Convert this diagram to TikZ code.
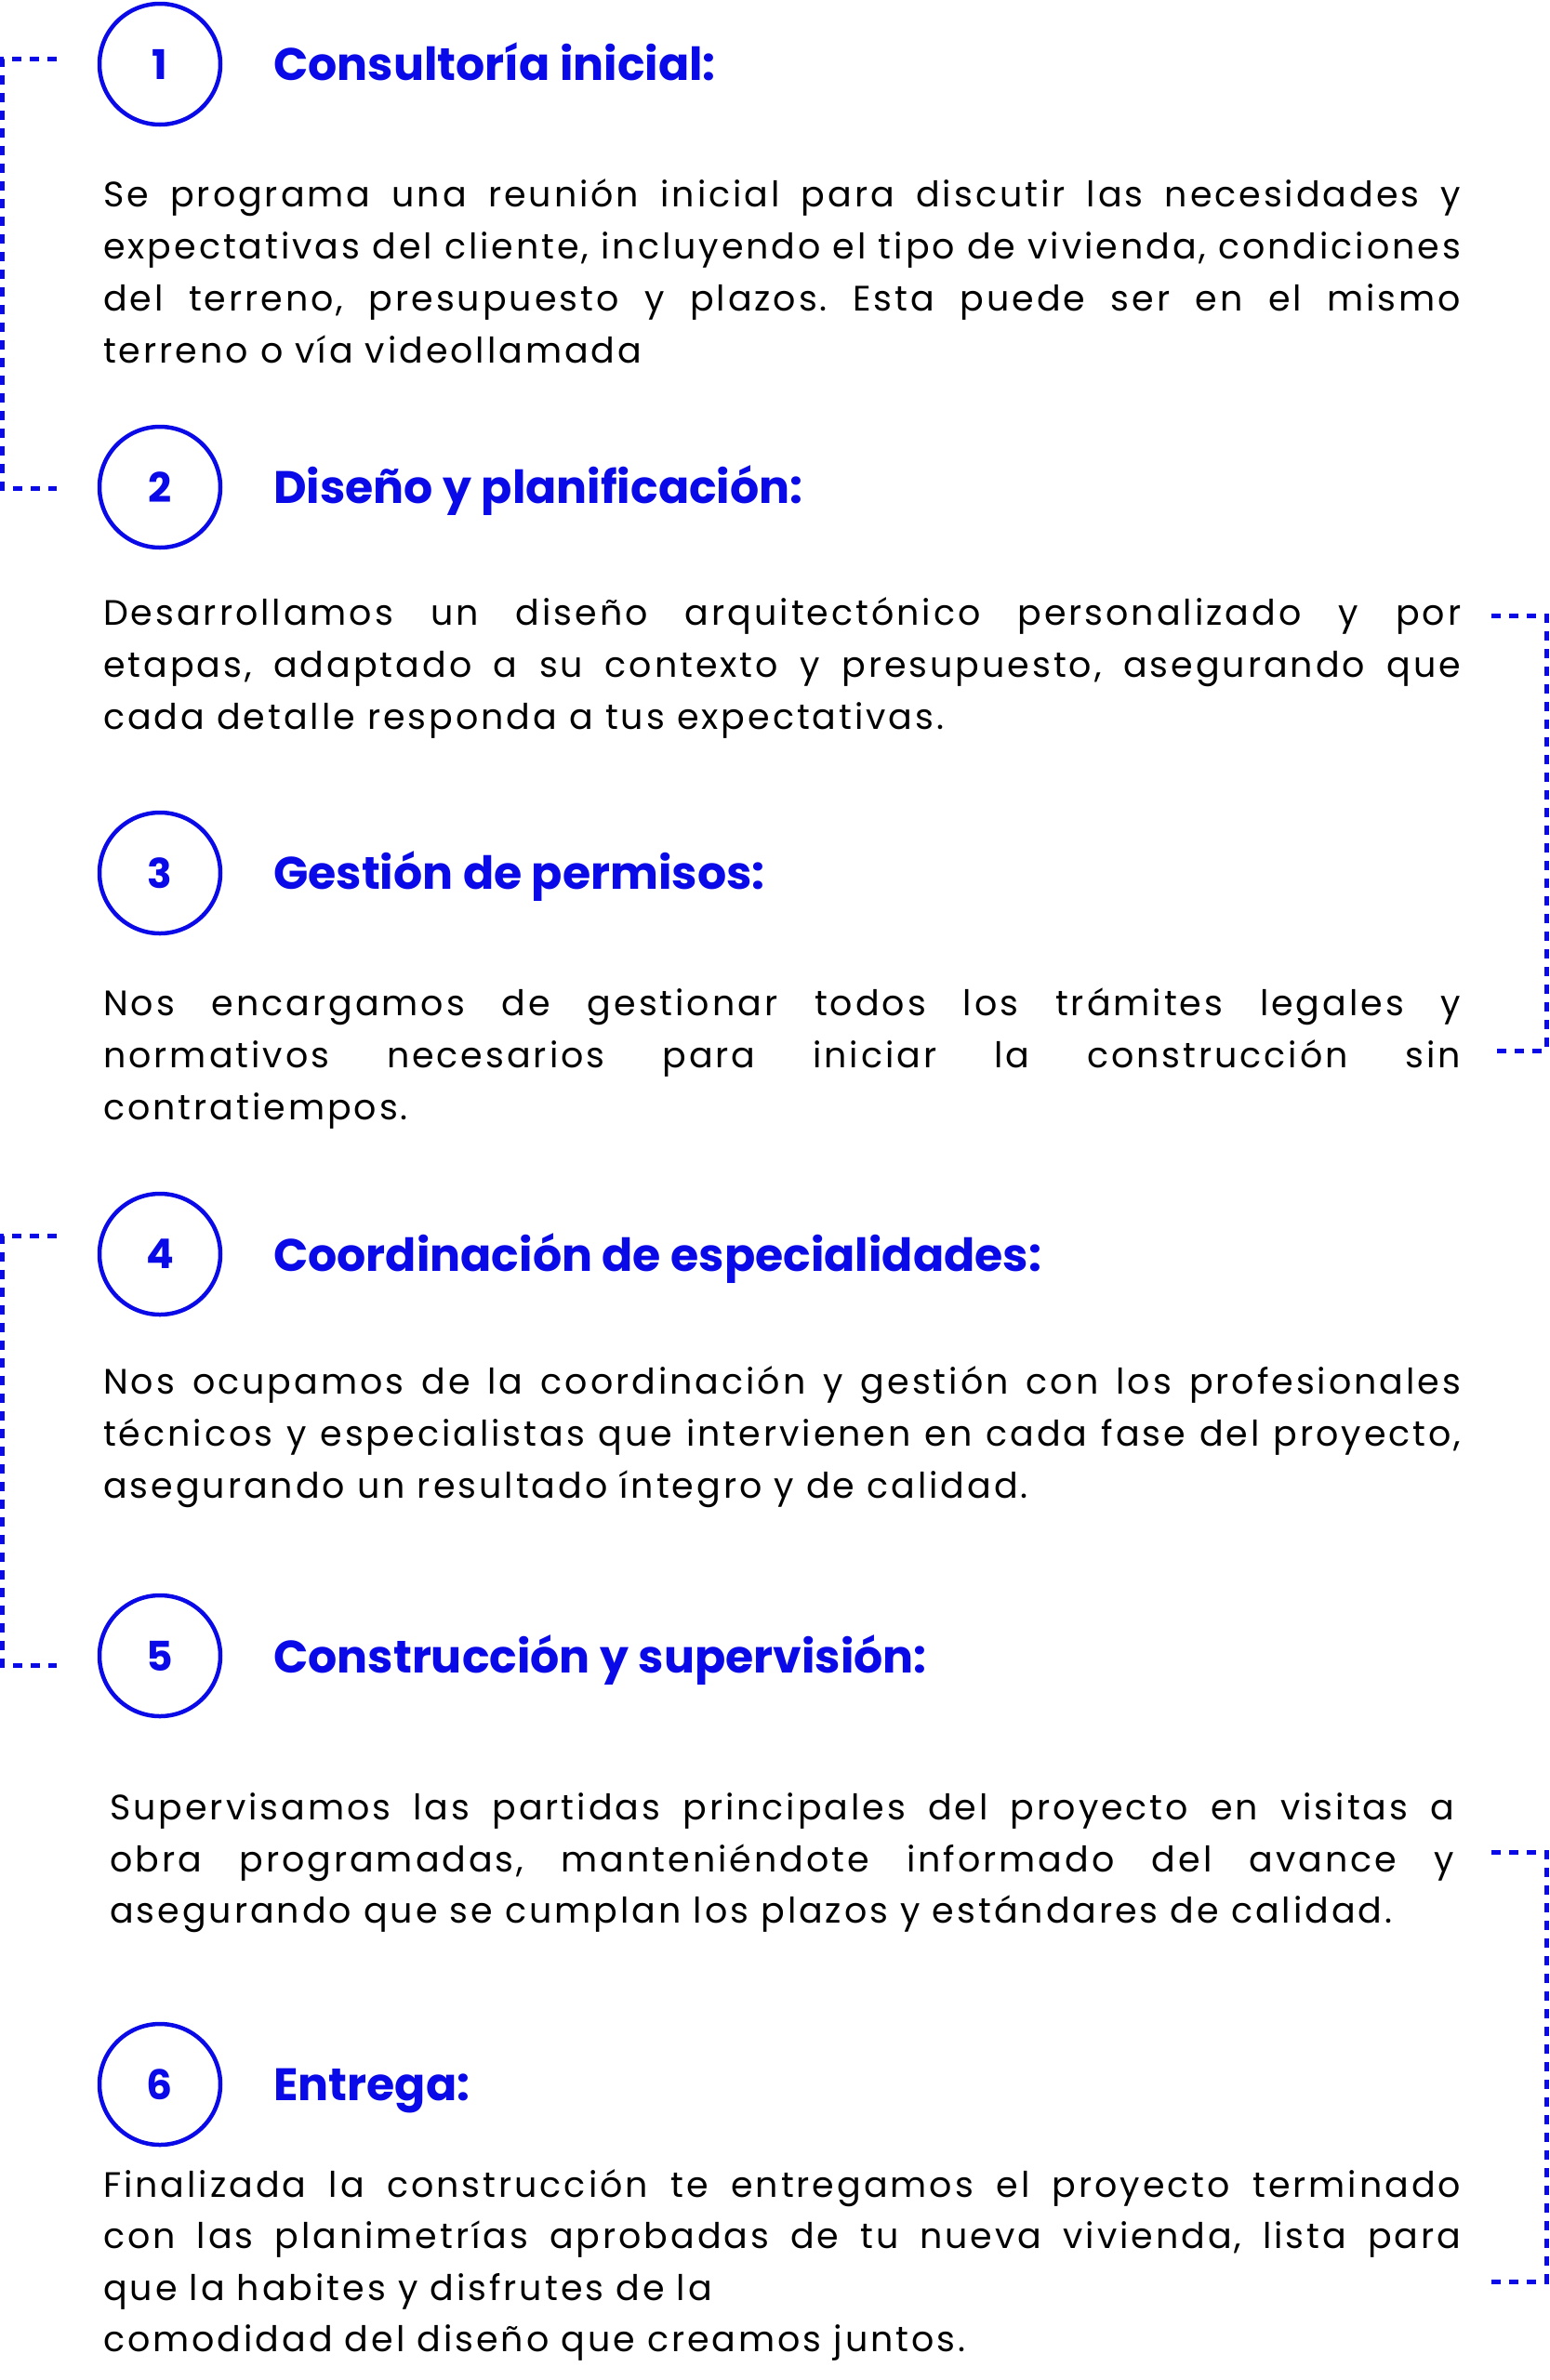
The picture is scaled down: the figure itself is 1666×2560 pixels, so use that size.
\documentclass[tikz,border=0pt]{standalone}
\usepackage{fontspec}
\setmainfont{Poppins}
\newfontfamily\bodyfont{Poppins}[LetterSpace=7.8]
\newfontfamily\headfont{Poppins}[LetterSpace=0]
\definecolor{brandblue}{RGB}{10,10,232}
\frenchspacing
\begin{document}
\begin{tikzpicture}[x=1pt,y=-1pt,
  numcircle/.style={circle,draw=brandblue,line width=4.5pt,minimum size=130pt,inner sep=0pt,
    font=\headfont\bfseries\fontsize{44}{44}\selectfont,text=brandblue},
  headtext/.style={anchor=base west,inner sep=0pt,text=brandblue,font=\headfont\bfseries\fontsize{49}{49}\selectfont},
  bodyline/.style={anchor=base west,inner sep=0pt,text=black,font=\bodyfont\frenchspacing\fontsize{38}{56}\selectfont},
  bracketline/.style={draw=brandblue,line width=5pt,dash pattern=on 10pt off 9pt}]
\useasboundingbox[fill=white] (0,0) rectangle (1666,2560);
\newcommand{\jl}[1]{\makebox[1460pt][s]{#1}}
\newcommand{\jlv}[1]{\makebox[1446pt][s]{#1}}

% circles
\node[numcircle] (c1) at (172,69) {1};
\node[numcircle] (c2) at (172,524) {2};
\node[numcircle] (c3) at (172,939) {3};
\node[numcircle] (c4) at (172,1349) {4};
\node[numcircle] (c5) at (172,1781) {5};
\node[numcircle] (c6) at (172,2242) {6};

% titles
\node[headtext] (t1) at (294,86) {Consultoría inicial:};
\node[headtext] (t2) at (294,541) {Diseño y planificación:};
\node[headtext] (t3) at (294,956) {Gestión de permisos:};
\node[headtext] (t4) at (294,1367) {Coordinación de especialidades:};
\node[headtext] (t5) at (294,1799) {Construcción y supervisión:};
\node[headtext] (t6) at (294,2259) {Entrega:};

% paragraph 1
\node[bodyline] (p1a) at (111,222) {\jl{Se programa una reunión inicial para discutir las necesidades y}};
\node[bodyline] (p1b) at (111,278) {\jl{expectativas del cliente, incluyendo el tipo de vivienda, condiciones}};
\node[bodyline] (p1c) at (111,334) {\jl{del terreno, presupuesto y plazos. Esta puede ser en el mismo}};
\node[bodyline] (p1d) at (111,390) {terreno o vía videollamada};

% paragraph 2
\node[bodyline] (p2a) at (111,672) {\jl{Desarrollamos un diseño arquitectónico personalizado y por}};
\node[bodyline] (p2b) at (111,728) {\jl{etapas, adaptado a su contexto y presupuesto, asegurando que}};
\node[bodyline] (p2c) at (111,784) {cada detalle responda a tus expectativas.};

% paragraph 3
\node[bodyline] (p3a) at (111,1092) {\jl{Nos encargamos de gestionar todos los trámites legales y}};
\node[bodyline] (p3b) at (111,1148) {\jl{normativos necesarios para iniciar la construcción sin}};
\node[bodyline] (p3c) at (111,1204) {contratiempos.};

% paragraph 4
\node[bodyline] (p4a) at (111,1499) {\jl{Nos ocupamos de la coordinación y gestión con los profesionales}};
\node[bodyline] (p4b) at (111,1555) {\jl{técnicos y especialistas que intervienen en cada fase del proyecto,}};
\node[bodyline] (p4c) at (111,1611) {asegurando un resultado íntegro y de calidad.};

% paragraph 5
\node[bodyline] (p5a) at (118,1957) {\jlv{Supervisamos las partidas principales del proyecto en visitas a}};
\node[bodyline] (p5b) at (118,2013) {\jlv{obra programadas, manteniéndote informado del avance y}};
\node[bodyline] (p5c) at (118,2068) {asegurando que se cumplan los plazos y estándares de calidad.};

% paragraph 6
\node[bodyline] (p6a) at (111,2363) {\jl{Finalizada la construcción te entregamos el proyecto terminado}};
\node[bodyline] (p6b) at (111,2418) {\jl{con las planimetrías aprobadas de tu nueva vivienda, lista para}};
\node[bodyline] (p6c) at (111,2474) {que la habites y disfrutes de la};
\node[bodyline] (p6d) at (111,2529) {comodidad del diseño que creamos juntos.};

% bracket coordinates
\coordinate (b1s) at (61,63);   \coordinate (b1k) at (2.5,63);
\coordinate (b1m) at (2.5,525); \coordinate (b1e) at (61,525);
\coordinate (b2s) at (1604,662);  \coordinate (b2k) at (1663,662);
\coordinate (b2m) at (1663,1130); \coordinate (b2e) at (1604,1130);
\coordinate (b3s) at (61,1329);   \coordinate (b3k) at (2.5,1329);
\coordinate (b3m) at (2.5,1791);  \coordinate (b3e) at (61,1791);
\coordinate (b4s) at (1604,1992); \coordinate (b4k) at (1663,1992);
\coordinate (b4m) at (1663,2454); \coordinate (b4e) at (1604,2454);

\draw[bracketline] (b1s) -- (b1k) -- (b1m) -- (b1e);
\draw[bracketline] (b2s) -- (b2k) -- (b2m) -- (b2e);
\draw[bracketline] (b3s) -- (b3k) -- (b3m) -- (b3e);
\draw[bracketline] (b4s) -- (b4k) -- (b4m) -- (b4e);
\end{tikzpicture}
\end{document}
